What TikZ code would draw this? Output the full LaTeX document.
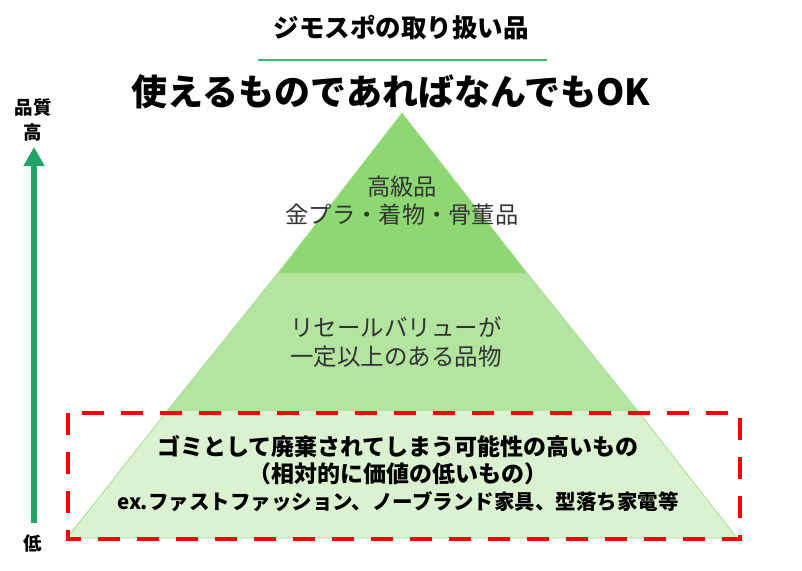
\documentclass[tikz,border=0pt]{standalone}
\usepackage{fontspec}
\newfontfamily\jp{Noto Sans CJK JP}
\usetikzlibrary{arrows.meta}

\definecolor{tiertop}{HTML}{8ED873}
\definecolor{tiermid}{HTML}{B3E5A0}
\definecolor{tierlow}{HTML}{DAF2D0}
\definecolor{tieredge}{HTML}{A6DC90}
\definecolor{axisgreen}{HTML}{22A468}
\definecolor{rulegreen}{HTML}{3DBB6E}

\tikzset{
  tier/.style={draw=tieredge, line width=0.8pt},
  tiertext/.style={font=\jp\fontsize{23.3}{28}\selectfont, text=black!80, align=center, inner sep=0pt},
  lowtext/.style={font=\jp\bfseries\fontsize{23}{27}\selectfont, align=center, inner sep=0pt},
  axislabel/.style={font=\jp\bfseries\fontsize{18.5}{25}\selectfont, align=center, inner sep=0pt}
}

\begin{document}
\begin{tikzpicture}[x=1pt,y=-1pt]
\useasboundingbox (0,0) rectangle (802,570);

% headings
\node [font=\jp\bfseries\fontsize{25.5}{30}\selectfont, inner sep=0pt] (head) at (401,28) {ジモスポの取り扱い品};
\draw [rulegreen, line width=1.6pt] (258,60) -- (547,60);
\node [font=\jp\bfseries\fontsize{36}{42}\selectfont, inner sep=0pt] (main) at (391,92) {使えるものであればなんでもOK};

% pyramid
\coordinate (apex) at (402,113);
\draw [tier, fill=tierlow] (67,538) -- (168,410) -- (637,410) -- (737,538) -- cycle;
\draw [tier, fill=tiermid] (168,410) -- (278,273) -- (527,273) -- (637,410) -- cycle;
\draw [tier, fill=tiertop] (278,273) -- (apex) -- (527,273) -- cycle;

\node [tiertext] (top) at (402,201) {高級品\\金プラ・着物・骨董品};
\node [tiertext, font=\jp\fontsize{23.5}{29}\selectfont] (mid) at (396,342) {リセールバリューが\\一定以上のある品物};
\node [lowtext] (low) at (398,474) {ゴミとして廃棄されてしまう可能性の高いもの\\（相対的に価値の低いもの）\\{\fontsize{20.5}{27}\selectfont ex.ファストファッション、ノーブランド家具、型落ち家電等}};

% red frame
\draw [red, line width=4.5pt, dash pattern=on 22pt off 17pt] (68,413) rectangle (740,539);

% quality axis
\node [axislabel] (hi) at (33,120) {品質\\高};
\node [axislabel] (lo) at (33,543) {低};
\draw [axisgreen, line width=6.5pt, -{Triangle[width=20pt,length=19pt]}] (34,523) -- (34,147);
\end{tikzpicture}
\end{document}
